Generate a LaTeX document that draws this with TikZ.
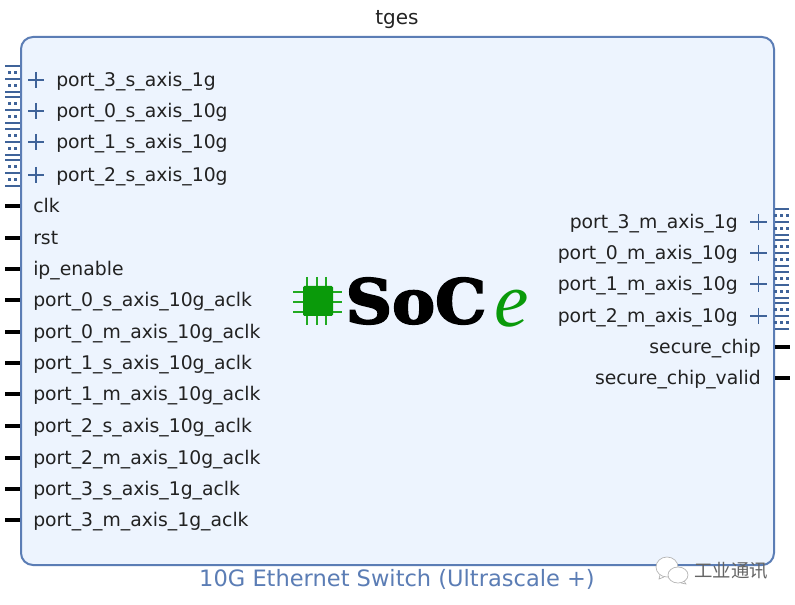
\documentclass[tikz,border=0pt]{standalone}
\usepackage{fontspec}
\setmainfont{DejaVu Sans}
\newfontfamily\logofont[FakeBold=3,FakeStretch=1.05]{DejaVu Serif}
\newfontfamily\efont{Liberation Serif}
\newfontfamily\cjkfont{Noto Sans CJK SC}
\definecolor{blockblue}{HTML}{5B7DB5}
\definecolor{blockfill}{HTML}{EDF4FE}
\definecolor{portblue}{HTML}{3F6399}
\definecolor{labelgrey}{HTML}{222222}
\definecolor{logogreen}{HTML}{0A9A0A}
\definecolor{pingreen}{HTML}{22AA22}
\tikzset{
  x=0.75pt,y=-0.75pt,
  block/.style={draw=blockblue,line width=1.5pt,fill=blockfill,rounded corners=9pt},
  portlabel/.style={inner sep=0pt,text=labelgrey,yshift=-2.2pt,font=\fontsize{14.1}{16}\selectfont},
  leftlabel/.style={portlabel,anchor=mid west},
  rightlabel/.style={portlabel,anchor=mid east},
  wire/.style={line width=2.4pt,black},
  plusmark/.style={draw=portblue,line width=1.1pt},
  busline/.style={draw=portblue,line width=1.5pt},
  pin/.style={draw=pingreen,line width=1.5pt},
}
\newcommand{\busglyph}[4]{% x-left, x-right, y-top, list of dot x positions
  \foreach \g in {0,...,3}{
    \foreach \l in {0,1,2}{
      \draw[busline] (#1,#3+\g*31.5+\l*12.8) -- (#2,#3+\g*31.5+\l*12.8);
    }
    \foreach \l in {0,1}{
      \foreach \dx in {#4}{
        \fill[portblue] (\dx-1.5,#3+\g*31.5+\l*12.8+4.9) rectangle +(3,3);
      }
    }
  }
}
\begin{document}
\begin{tikzpicture}
\useasboundingbox (0,0) rectangle (795,605);
\fill[white] (0,0) rectangle (795,605);
\node[font=\fontsize{15}{16}\selectfont,text=labelgrey,inner sep=0pt] (title) at (397,20) {tges};
\node[block,minimum width=753*0.75pt,minimum height=528*0.75pt,inner sep=0pt] (ip) at (397.5,301) {};
\node[font=\fontsize{16.9}{18}\selectfont,text=blockblue,inner sep=0pt] (subtitle) at (397,579) {10G Ethernet Switch (Ultrascale +)};

% left buses
\busglyph{5}{20}{66}{9.5,15.5}
\foreach \n/\y/\t in {a/80/port\_3\_s\_axis\_1g,b/111/port\_0\_s\_axis\_10g,c/142/port\_1\_s\_axis\_10g,d/175/port\_2\_s\_axis\_10g}{
  \node[leftlabel] (l\n) at (56,\y) {\t};
  \draw[plusmark] (28,\y)--(44,\y) (36,\y-8)--(36,\y+8);
}
% left scalar ports
\foreach \n/\y/\t in {
  e/206/clk,f/238/rst,g/269/ip\_enable,
  h/300/port\_0\_s\_axis\_10g\_aclk,i/332/port\_0\_m\_axis\_10g\_aclk,
  j/363/port\_1\_s\_axis\_10g\_aclk,k/394/port\_1\_m\_axis\_10g\_aclk,
  l/426/port\_2\_s\_axis\_10g\_aclk,m/458/port\_2\_m\_axis\_10g\_aclk,
  n/489/port\_3\_s\_axis\_1g\_aclk,o/520/port\_3\_m\_axis\_1g\_aclk}{
  \node[leftlabel] (l\n) at (33,\y) {\t};
  \coordinate (ls\n) at (5,\y);
  \coordinate (le\n) at (20,\y);
  \draw[wire] (ls\n) -- (le\n);
}
% right buses
\busglyph{775}{789}{209}{775.5,781,787}
\foreach \n/\y/\t in {a/222/port\_3\_m\_axis\_1g,b/253/port\_0\_m\_axis\_10g,c/284/port\_1\_m\_axis\_10g,d/316/port\_2\_m\_axis\_10g}{
  \node[rightlabel] (r\n) at (738,\y) {\t};
  \draw[plusmark] (750,\y)--(767,\y) (758.5,\y-8)--(758.5,\y+8);
}
\foreach \n/\y/\t in {e/347/secure\_chip,f/378/secure\_chip\_valid}{
  \node[rightlabel] (r\n) at (761,\y) {\t};
  \coordinate (rs\n) at (775,\y);
  \coordinate (re\n) at (790,\y);
  \draw[wire] (rs\n) -- (re\n);
}
% logo
\foreach \v in {292,302,312}{
  \draw[pin] (293,\v)--(342,\v);
}
\foreach \v in {307,317,326}{
  \draw[pin] (\v,277)--(\v,325);
}
\fill[logogreen,rounded corners=1pt] (303,286) rectangle (333,316);
\node[inner sep=0pt,anchor=center,text=black,font=\logofont\bfseries\fontsize{46}{50}\selectfont] (soc) at (416,301) {SoC};
\node[inner sep=0pt,anchor=center,text=logogreen,font=\efont\itshape\fontsize{58}{60}\selectfont] (e) at (512,309) {e};
% watermark
\draw[fill=white,draw=gray!60,line width=0.5pt] (667,567) ellipse (11 and 10);
\draw[gray!60,line width=0.5pt] (660,575)--(659,579)--(664,577);
\draw[fill=white,draw=gray!60,line width=0.5pt] (678,575) ellipse (10 and 8);
\draw[gray!60,line width=0.5pt] (684,581)--(686,584)--(681,583);
\node[inner sep=0pt,text=labelgrey!70,font=\cjkfont\fontsize{13.8}{15}\selectfont] (mark) at (731,571) {工业通讯};
\end{tikzpicture}
\end{document}
